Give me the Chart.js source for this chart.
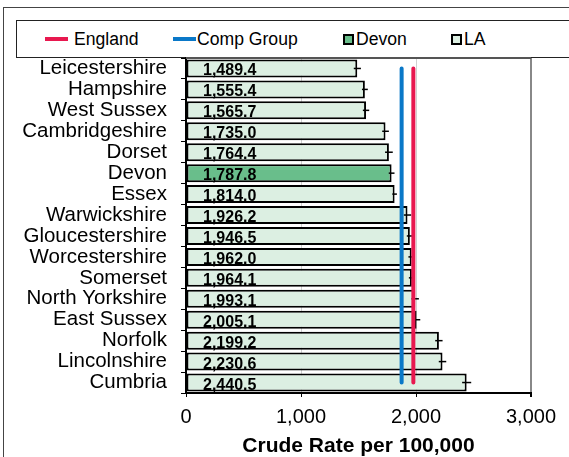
<!DOCTYPE html>
<html>
<head>
<meta charset="utf-8">
<script src="https://cdn.jsdelivr.net/npm/chart.js@4/dist/chart.umd.min.js"></script>
<style>
  html, body { margin: 0; padding: 0; background: #fff; overflow: hidden; }
  #wrap { position: relative; width: 569px; height: 457px; font-family: "Liberation Sans", Arial, sans-serif; }
  #frame { position: absolute; left: 3px; top: 7px; width: 600px; height: 480px; border: 1px solid #444; }
  #legend { position: absolute; left: 16px; top: 20px; width: 600px; height: 36px; border: 1px solid #222; background: #fff; }
  .lg-line { position: absolute; top: 16px; width: 23px; height: 4px; }
  .lg-box { position: absolute; top: 13px; width: 7px; height: 7px; border: 2px solid #000; }
  .lg-text { position: absolute; top: 7px; font-size: 17.6px; line-height: 22px; color: #000; white-space: nowrap; }
  canvas { position: absolute; left: 0; top: 0; }
</style>
</head>
<body>
<div id="wrap">
  <div id="frame"></div>
  <div id="legend"></div>
  <canvas id="rateChart" width="569" height="457"></canvas>
</div>
<script>
// --- datos ---
const areas = ['Leicestershire', 'Hampshire', 'West Sussex', 'Cambridgeshire', 'Dorset', 'Devon', 'Essex',
  'Warwickshire', 'Gloucestershire', 'Worcestershire', 'Somerset', 'North Yorkshire', 'East Sussex',
  'Norfolk', 'Lincolnshire', 'Cumbria'];
const rates = [1489.4, 1555.4, 1565.7, 1735.0, 1764.4, 1787.8, 1814.0, 1926.2, 1946.5, 1962.0, 1964.1,
  1993.1, 2005.1, 2199.2, 2230.6, 2440.5];
const lowerCI = [1459, 1530, 1538, 1706, 1731, 1763, 1794, 1894, 1920, 1934, 1938, 1961, 1973, 2167, 2198, 2401];
const upperCI = [1521, 1581, 1593, 1764, 1798, 1813, 1834, 1958, 1973, 1990, 1990, 2025, 2037, 2231, 2263, 2480];
const englandRate = 1977;
const compGroupRate = 1875;
const xTicks = [0, 1000, 2000, 3000];
const highlight = 'Devon';

const colEngland = '#e8184f';
const colComp = '#0a78c8';
const colDevon = '#69be8b';
const colLA = '#dcefe2';
const FONT = '"Liberation Sans", Arial, sans-serif';

// --- leyenda (HTML) ---
(function() {
  const lg = document.getElementById('legend');
  const items = [
    { kind: 'line', color: colEngland, text: 'England', mark: 28, txt: 57 },
    { kind: 'line', color: colComp, text: 'Comp Group', mark: 156, txt: 180 },
    { kind: 'box', color: colDevon, text: 'Devon', mark: 326, txt: 339 },
    { kind: 'box', color: colLA, text: 'LA', mark: 434, txt: 447 }
  ];
  items.forEach(it => {
    const m = document.createElement('div');
    m.className = it.kind === 'line' ? 'lg-line' : 'lg-box';
    m.style.left = it.mark + 'px';
    m.style.background = it.color;
    lg.appendChild(m);
    const t = document.createElement('div');
    t.className = 'lg-text';
    t.style.left = it.txt + 'px';
    t.textContent = it.text;
    lg.appendChild(t);
  });
})();

// --- barras de error y etiquetas ---
const barExtras = {
  id: 'barExtras',
  beforeDatasetsDraw(chart) {
    const { ctx, chartArea } = chart;
    ctx.save();
    ctx.strokeStyle = '#555';
    ctx.lineWidth = 2;
    ctx.beginPath();
    ctx.moveTo(chartArea.left, chartArea.top);
    ctx.lineTo(chartArea.right, chartArea.top);
    ctx.stroke();
    ctx.restore();
  },
  afterDatasetDraw(chart, args) {
    if (args.index !== 0) return;
    const { ctx } = chart;
    const xs = chart.scales.x;
    const meta = args.meta;
    ctx.save();
    ctx.strokeStyle = '#000';
    ctx.lineWidth = 1.5;
    meta.data.forEach((bar, i) => {
      const y = bar.y;
      ctx.beginPath();
      ctx.moveTo(xs.getPixelForValue(lowerCI[i]), y);
      ctx.lineTo(xs.getPixelForValue(upperCI[i]), y);
      ctx.stroke();
    });
    ctx.fillStyle = '#000';
    ctx.font = 'bold 16px ' + FONT;
    ctx.textAlign = 'left';
    ctx.textBaseline = 'alphabetic';
    meta.data.forEach((bar, i) => {
      const label = rates[i].toLocaleString('en-US', { minimumFractionDigits: 1, maximumFractionDigits: 1 });
      ctx.fillText(label, xs.getPixelForValue(0) + 17, bar.y + 7);
    });
    ctx.restore();
  }
};

new Chart(document.getElementById('rateChart'), {
  type: 'bar',
  data: {
    labels: areas,
    datasets: [
      {
        label: 'LA',
        data: rates,
        backgroundColor: areas.map(a => a === highlight ? colDevon : colLA),
        borderColor: '#000',
        borderWidth: 2,
        borderSkipped: false,
        barPercentage: 0.86,
        categoryPercentage: 1,
        order: 2
      },
      {
        type: 'line',
        label: 'Comp Group',
        data: areas.map(() => compGroupRate),
        borderColor: colComp,
        borderWidth: 4,
        borderCapStyle: 'round',
        pointRadius: 0,
        order: 1
      },
      {
        type: 'line',
        label: 'England',
        data: areas.map(() => englandRate),
        borderColor: colEngland,
        borderWidth: 4,
        borderCapStyle: 'round',
        pointRadius: 0,
        order: 0
      }
    ]
  },
  options: {
    indexAxis: 'y',
    responsive: false,
    animation: false,
    layout: { padding: { left: 0, top: 58, right: 38, bottom: 0 } },
    plugins: { legend: { display: false }, tooltip: { enabled: false } },
    scales: {
      x: {
        type: 'linear',
        min: 0,
        max: 3000,
        afterBuildTicks: s => { s.ticks = xTicks.map(v => ({ value: v })); },
        afterFit: s => { s.height = 64; },
        ticks: {
          color: '#000',
          padding: 8,
          font: { family: FONT, size: 20 },
          callback: v => v.toLocaleString('en-US')
        },
        grid: {
          color: c => (c.tick && c.tick.value === 3000) ? '#888' : '#d0d0d0',
          lineWidth: c => (c.tick && c.tick.value === 3000) ? 2 : 1,
          tickColor: '#000',
          tickLength: 4
        },
        border: { color: '#000', width: 2 },
        title: {
          display: true,
          text: 'Crude Rate per 100,000',
          color: '#000',
          padding: { top: 0, bottom: 0 },
          font: { family: FONT, size: 21, weight: 'bold', lineHeight: 1 }
        }
      },
      y: {
        afterFit: s => { s.width = 186; },
        ticks: {
          color: '#000',
          padding: 14,
          autoSkip: false,
          font: { family: FONT, size: 20.5, lineHeight: 1 }
        },
        grid: {
          offset: true,
          drawOnChartArea: false,
          tickColor: '#000',
          tickLength: 5
        },
        border: { color: '#000', width: 2 }
      }
    }
  },
  plugins: [barExtras]
});
</script>
</body>
</html>
